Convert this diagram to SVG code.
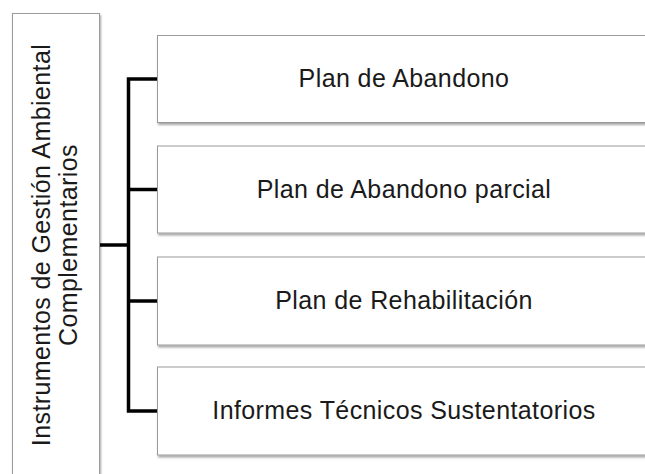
<svg xmlns="http://www.w3.org/2000/svg" width="645" height="474" viewBox="0 0 645 474">
  <defs>
    <filter id="sh" x="-10%" y="-10%" width="130%" height="130%">
      <feDropShadow dx="1" dy="2" stdDeviation="1.2" flood-color="#000" flood-opacity="0.35"/>
    </filter>
  </defs>
  <style>
    .box { fill: #ffffff; stroke: #9a9a9a; stroke-width: 1; filter: url(#sh); }
    .lbl { font-family: "Liberation Sans", Arial, Helvetica, sans-serif; font-size: 25px; fill: #1a1a1a; letter-spacing: 0.4px; text-anchor: middle; }
    .con { fill: none; stroke: #000; stroke-width: 3.5; stroke-linecap: butt; stroke-linejoin: miter; }
  </style>
  <rect width="645" height="474" fill="#ffffff"/>

  <g id="connectors">
    <path class="con" d="M99.5,245 H128.5"/>
    <path class="con" d="M157,79 H128.5 V411 H157"/>
    <path class="con" d="M128.5,189.5 H157"/>
    <path class="con" d="M128.5,301 H157"/>
  </g>

  <g id="root">
    <rect class="box" x="12.5" y="13.5" width="87" height="480"/>
    <text class="lbl" transform="translate(50,245) rotate(-90)">Instrumentos de Gestión Ambiental</text>
    <text class="lbl" transform="translate(77,245) rotate(-90)">Complementarios</text>
  </g>

  <g id="n1">
    <rect class="box" x="157.5" y="35.5" width="510" height="87"/>
    <text class="lbl" x="404" y="87">Plan de Abandono</text>
  </g>
  <g id="n2">
    <rect class="box" x="157.5" y="146" width="510" height="87"/>
    <text class="lbl" x="404" y="198">Plan de Abandono parcial</text>
  </g>
  <g id="n3">
    <rect class="box" x="157.5" y="257" width="510" height="88"/>
    <text class="lbl" x="404" y="309">Plan de Rehabilitación</text>
  </g>
  <g id="n4">
    <rect class="box" x="157.5" y="367" width="510" height="88"/>
    <text class="lbl" x="404" y="419">Informes Técnicos Sustentatorios</text>
  </g>
</svg>
